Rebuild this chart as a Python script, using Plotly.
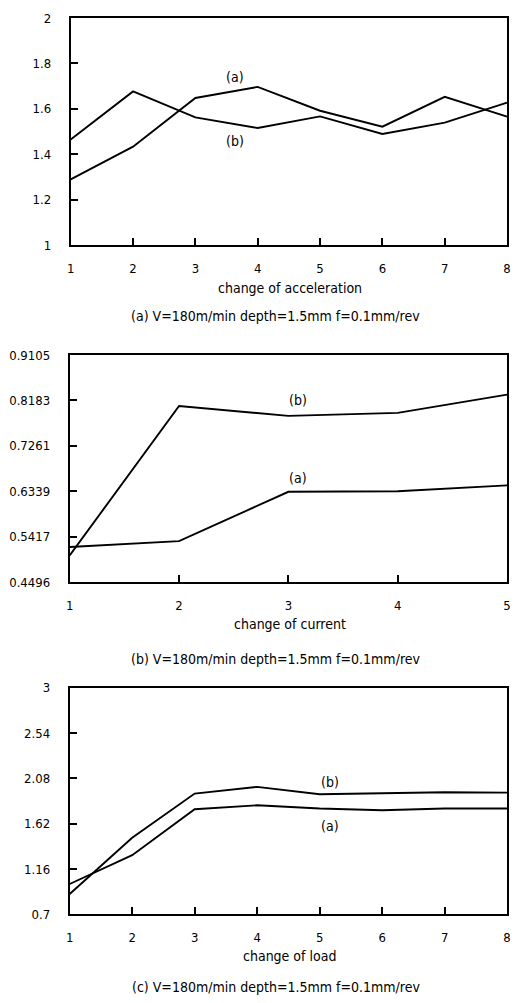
import plotly.graph_objects as go

# ---- data ----
x_acc = [1, 2, 3, 4, 5, 6, 7, 8]
acc_a = [1.29, 1.434, 1.648, 1.697, 1.592, 1.522, 1.653, 1.566]
acc_b = [1.465, 1.677, 1.563, 1.516, 1.567, 1.49, 1.54, 1.628]

x_cur = [1, 2, 3, 4, 5]
cur_a = [0.521, 0.533, 0.633, 0.634, 0.646]
cur_b = [0.504, 0.807, 0.787, 0.793, 0.830]

x_load = [1, 2, 3, 4, 5, 6, 7, 8]
load_a = [1.007, 1.30, 1.767, 1.807, 1.774, 1.757, 1.774, 1.774]
load_b = [0.906, 1.477, 1.926, 1.994, 1.919, 1.926, 1.94, 1.936]

y1_ticks = [1, 1.2, 1.4, 1.6, 1.8, 2]
y1_text = ["1", "1.2", "1.4", "1.6", "1.8", "2"]
y2_ticks = [0.4496, 0.5417, 0.6339, 0.7261, 0.8183, 0.9105]
y2_text = ["0.4496", "0.5417", "0.6339", "0.7261", "0.8183", "0.9105"]
y3_ticks = [0.7, 1.16, 1.62, 2.08, 2.54, 3]
y3_text = ["0.7", "1.16", "1.62", "2.08", "2.54", "3"]

x_titles = ["change of acceleration", "change of current", "change of load"]
captions = [
    "(a) V=180m/min depth=1.5mm f=0.1mm/rev",
    "(b) V=180m/min depth=1.5mm f=0.1mm/rev",
    "(c) V=180m/min depth=1.5mm f=0.1mm/rev",
]

FONT = "DejaVu Sans Condensed, DejaVu Sans"
W, H = 516, 1003
SX, SY = 1.012, 1.012


def px(x):
    return W / 2 + (x - W / 2) * SX


def py(y):
    return H / 2 + (y - H / 2) * SY


fig = go.Figure()
line = dict(color="black", width=1.9)

panels = [
    (x_acc, acc_a, acc_b, "x", "y"),
    (x_cur, cur_a, cur_b, "x2", "y2"),
    (x_load, load_a, load_b, "x3", "y3"),
]
for xs, a, b, xa, ya in panels:
    fig.add_trace(go.Scatter(x=xs, y=a, mode="lines", line=line, xaxis=xa, yaxis=ya,
                             cliponaxis=False, showlegend=False))
    fig.add_trace(go.Scatter(x=xs, y=b, mode="lines", line=line, xaxis=xa, yaxis=ya,
                             cliponaxis=False, showlegend=False))

# pixel boxes (left, right, top, bottom)
boxes = [(70, 511, 17, 245), (69, 511, 355, 583), (69, 511, 689, 916)]
title_y = [288, 625, 958]
cap_y = [316, 660, 989]


def xdom(l, r):
    return [max(0, px(l) / W), min(px(r), 511) / W]


def ydom(t, b):
    return [max(0, 1 - py(b) / H), min(1, 1 - py(t) / H)]


axis_common = dict(showgrid=False, zeroline=False, showline=True, linecolor="black",
                   linewidth=1.9, mirror=True, ticks="inside", ticklen=7, tickwidth=1.5,
                   tickcolor="black", tickfont=dict(family=FONT, size=13, color="black"))

xranges = [[1, 8], [1, 5], [1, 8]]
xtickvals = [x_acc, x_cur, x_load]
yranges = [[1, 2], [0.4496, 0.9105], [0.7, 3]]
yticks = [(y1_ticks, y1_text), (y2_ticks, y2_text), (y3_ticks, y3_text)]

layout = {}
for i in range(3):
    l, r, t, b = boxes[i]
    xk = "xaxis" if i == 0 else f"xaxis{i+1}"
    yk = "yaxis" if i == 0 else f"yaxis{i+1}"
    anchor_x = "y" if i == 0 else f"y{i+1}"
    anchor_y = "x" if i == 0 else f"x{i+1}"
    layout[xk] = dict(axis_common, domain=xdom(l, r), range=xranges[i], anchor=anchor_x,
                      tickvals=xtickvals[i], ticklabelstandoff=10)
    layout[yk] = dict(axis_common, domain=ydom(t, b), range=yranges[i], anchor=anchor_y,
                      tickvals=yticks[i][0], ticktext=yticks[i][1], ticklabelstandoff=15)

annotations = []
for i in range(3):
    annotations.append(dict(text=x_titles[i], xref="paper", yref="paper",
                            x=px((boxes[i][0] + boxes[i][1]) / 2) / W, y=1 - py(title_y[i]) / H,
                            xanchor="center", yanchor="middle", showarrow=False,
                            font=dict(family=FONT, size=14, color="black")))
    annotations.append(dict(text=captions[i], xref="paper", yref="paper",
                            x=px(276) / W, y=1 - py(cap_y[i]) / H,
                            xanchor="center", yanchor="middle", showarrow=False,
                            font=dict(family=FONT, size=14, color="black")))

# curve labels
curve_labels = [
    ("x", "y", 3.64, 1.741, "(a)"), ("x", "y", 3.63, 1.46, "(b)"),
    ("x2", "y2", 3.09, 0.660, "(a)"), ("x2", "y2", 3.09, 0.8195, "(b)"),
    ("x3", "y3", 5.16, 1.592, "(a)"), ("x3", "y3", 5.16, 2.048, "(b)"),
]
for xr, yr, xv, yv, txt in curve_labels:
    annotations.append(dict(text=txt, xref=xr, yref=yr, x=xv, y=yv, showarrow=False,
                            xanchor="center", yanchor="middle",
                            font=dict(family=FONT, size=14, color="black")))

fig.update_layout(width=W, height=H, margin=dict(l=0, r=0, t=0, b=0),
                  plot_bgcolor="white", paper_bgcolor="white",
                  annotations=annotations, **layout)

fig.write_html("out.html", config={"displayModeBar": False},
               post_script="document.body.style.margin='0';document.body.style.overflow='hidden';")
